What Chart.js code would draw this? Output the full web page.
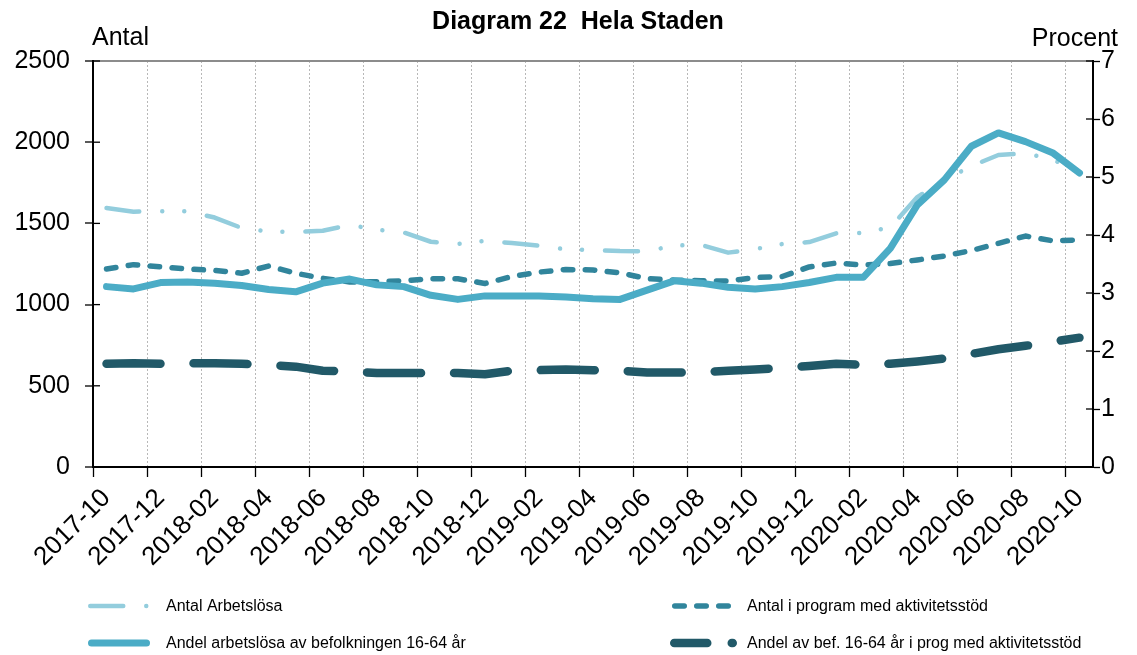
<!DOCTYPE html>
<html>
<head>
<meta charset="utf-8">
<script src="https://cdn.jsdelivr.net/npm/chart.js@4.4.0/dist/chart.umd.min.js"></script>
<style>
html,body{margin:0;padding:0;background:#fff;}
#wrap{width:1137px;height:655px;position:relative;}
</style>
</head>
<body>
<div id="wrap"><canvas id="c"></canvas></div>
<script>
// ---- data ----
const months = ['2017-10','2017-11','2017-12','2018-01','2018-02','2018-03','2018-04','2018-05','2018-06','2018-07','2018-08','2018-09','2018-10','2018-11','2018-12','2019-01','2019-02','2019-03','2019-04','2019-05','2019-06','2019-07','2019-08','2019-09','2019-10','2019-11','2019-12','2020-01','2020-02','2020-03','2020-04','2020-05','2020-06','2020-07','2020-08','2020-09','2020-10'];
const antalArbetslosa = [1595,1572,1575,1575,1536,1472,1450,1447,1455,1490,1462,1444,1387,1373,1392,1379,1363,1340,1336,1330,1328,1364,1367,1320,1342,1373,1385,1439,1441,1476,1662,1767,1853,1921,1931,1895,1810];
const antalProgram = [1219,1246,1233,1219,1211,1193,1238,1193,1162,1139,1141,1147,1159,1159,1130,1173,1200,1216,1213,1196,1160,1151,1147,1145,1167,1173,1232,1256,1244,1253,1275,1299,1333,1377,1422,1393,1398];
const andelArbetslosa = [3.11,3.07,3.18,3.19,3.17,3.13,3.06,3.02,3.17,3.24,3.14,3.11,2.96,2.89,2.95,2.95,2.95,2.93,2.90,2.89,3.05,3.21,3.17,3.10,3.07,3.11,3.18,3.27,3.27,3.77,4.52,4.95,5.53,5.76,5.61,5.42,5.07];
const andelProgram = [1.78,1.79,1.78,1.79,1.79,1.78,1.76,1.73,1.66,1.65,1.62,1.62,1.62,1.62,1.60,1.66,1.67,1.68,1.67,1.66,1.63,1.63,1.63,1.66,1.68,1.71,1.74,1.78,1.76,1.78,1.82,1.87,1.95,2.03,2.09,2.16,2.23];
const seriesNames = ['Antal Arbetslösa','Antal i program med aktivitetsstöd','Andel arbetslösa av befolkningen 16-64 år','Andel av bef. 16-64 år i prog med aktivitetsstöd'];
const leftTickValues = [0,500,1000,1500,2000,2500];
const rightTickValues = [0,1,2,3,4,5,6,7];
const chartTitle = 'Diagram 22  Hela Staden';
const leftAxisTitle = 'Antal';
const rightAxisTitle = 'Procent';

const FONT = '"Liberation Sans", Arial, Helvetica, sans-serif';
Chart.defaults.font.family = FONT;
Chart.defaults.color = '#000';

const legendSpots = [
  {ds:0, x:88,  y:606, len:62, tx:166, dash:null},
  {ds:1, x:672, y:606, len:66, tx:747, dash:null},
  {ds:2, x:88,  y:643, len:62, tx:166, dash:null},
  {ds:3, x:670, y:643, len:67, tx:747, dash:[33, 24.5]}
];

const extras = {
  id: 'extras',
  afterDraw(chart) {
    const ctx = chart.ctx, a = chart.chartArea;
    const yL = chart.scales.y, yR = chart.scales.y1;
    ctx.save();
    ctx.strokeStyle = '#000';
    ctx.lineWidth = 1.3;
    yL.ticks.forEach(t => {
      const p = yL.getPixelForValue(t.value);
      ctx.beginPath(); ctx.moveTo(a.left, p); ctx.lineTo(a.left + 7, p); ctx.stroke();
    });
    yR.ticks.forEach(t => {
      const p = yR.getPixelForValue(t.value);
      ctx.beginPath(); ctx.moveTo(a.right - 7, p); ctx.lineTo(a.right, p); ctx.stroke();
    });
    // titles
    ctx.fillStyle = '#000';
    ctx.textBaseline = 'alphabetic';
    ctx.font = 'bold 25px ' + FONT;
    ctx.textAlign = 'center';
    ctx.fillText(chartTitle, 578, 29);
    ctx.font = '25px ' + FONT;
    ctx.textAlign = 'left';
    ctx.fillText(leftAxisTitle, a.left - 1, 45);
    ctx.textAlign = 'right';
    ctx.fillText(rightAxisTitle, 1118, 46);
    // legend
    legendSpots.forEach(s => {
      const ds = chart.data.datasets[s.ds];
      ctx.save();
      ctx.strokeStyle = ds.borderColor;
      ctx.lineWidth = ds.borderWidth;
      ctx.lineCap = 'round';
      ctx.setLineDash(s.dash || ds.borderDash || []);
      ctx.beginPath();
      const w = ds.borderWidth / 2;
      ctx.moveTo(s.x + w, s.y);
      ctx.lineTo(s.x + s.len - w, s.y);
      ctx.stroke();
      ctx.restore();
      ctx.font = '16px ' + FONT;
      ctx.fillStyle = '#000';
      ctx.textAlign = 'left';
      ctx.textBaseline = 'middle';
      ctx.fillText(ds.label, s.tx, s.y + 1);
    });
    ctx.restore();
  }
};

new Chart(document.getElementById('c'), {
  type: 'line',
  data: {
    labels: months,
    datasets: [
      {label: seriesNames[0], data: antalArbetslosa, yAxisID: 'y', borderColor: '#93CDDD', borderWidth: 4.5,
       borderDash: [33, 23, 0.01, 22, 0.01, 23], borderCapStyle: 'round', borderJoinStyle: 'round', order: 3},
      {label: seriesNames[1], data: antalProgram, yAxisID: 'y', borderColor: '#31859C', borderWidth: 5.5,
       borderDash: [9.5, 12.5], borderCapStyle: 'round', borderJoinStyle: 'round', order: 2},
      {label: seriesNames[2], data: andelArbetslosa, yAxisID: 'y1', borderColor: '#4BACC6', borderWidth: 7,
       borderCapStyle: 'round', borderJoinStyle: 'round', order: 0},
      {label: seriesNames[3], data: andelProgram, yAxisID: 'y1', borderColor: '#215968', borderWidth: 8.5,
       borderDash: [54, 33], borderCapStyle: 'round', borderJoinStyle: 'round', order: 1}
    ]
  },
  options: {
    responsive: true,
    maintainAspectRatio: false,
    animation: false,
    devicePixelRatio: 1,
    layout: {padding: {top: 61, bottom: 88, left: 0, right: 0}},
    elements: {point: {radius: 0, hoverRadius: 0}, line: {tension: 0, fill: false}},
    plugins: {legend: {display: false}, tooltip: {enabled: false}, title: {display: false}},
    scales: {
      x: {
        type: 'category',
        offset: true,
        grid: {
          offset: true, drawOnChartArea: true, drawTicks: true, tickLength: 10,
          color: c => (c.index % 2 === 0 ? '#b8b8b8' : 'rgba(0,0,0,0)'),
          tickColor: c => (c.index % 2 === 0 ? '#000' : 'rgba(0,0,0,0)'),
          lineWidth: 1, tickWidth: 1.3
        },
        border: {display: true, color: '#000', width: 2, dash: [2, 2]},
        ticks: {
          autoSkip: false, minRotation: 45, maxRotation: 45, padding: 6,
          font: {size: 26}, color: '#000',
          callback: (v, i) => (i % 2 === 0 ? months[i] : '')
        },
        afterFit: s => { s.height = 100; }
      },
      y: {
        position: 'left', min: 0, max: 2500,
        afterBuildTicks: s => { s.ticks = leftTickValues.map(v => ({value: v})); },
        ticks: {font: {size: 25}, color: '#000', padding: 15, callback: v => String(v)},
        grid: {
          drawOnChartArea: true, drawTicks: true, tickLength: 8,
          color: c => (c.tick && c.tick.value === 2500 ? '#8c8c8c' : 'rgba(0,0,0,0)'),
          tickColor: '#000', lineWidth: 2, tickWidth: 1.3
        },
        border: {display: true, color: '#000', width: 2},
        afterFit: s => { s.width = 93; }
      },
      y1: {
        position: 'right', min: 0, max: 7,
        afterBuildTicks: s => { s.ticks = rightTickValues.map(v => ({value: v})); },
        ticks: {font: {size: 25}, color: '#000', padding: 1, callback: v => String(v)},
        grid: {drawOnChartArea: false, drawTicks: true, tickLength: 7, tickColor: '#000', tickWidth: 1.3},
        border: {display: true, color: '#000', width: 2},
        afterFit: s => { s.width = 44; }
      }
    }
  },
  plugins: [extras]
});
</script>
</body>
</html>
